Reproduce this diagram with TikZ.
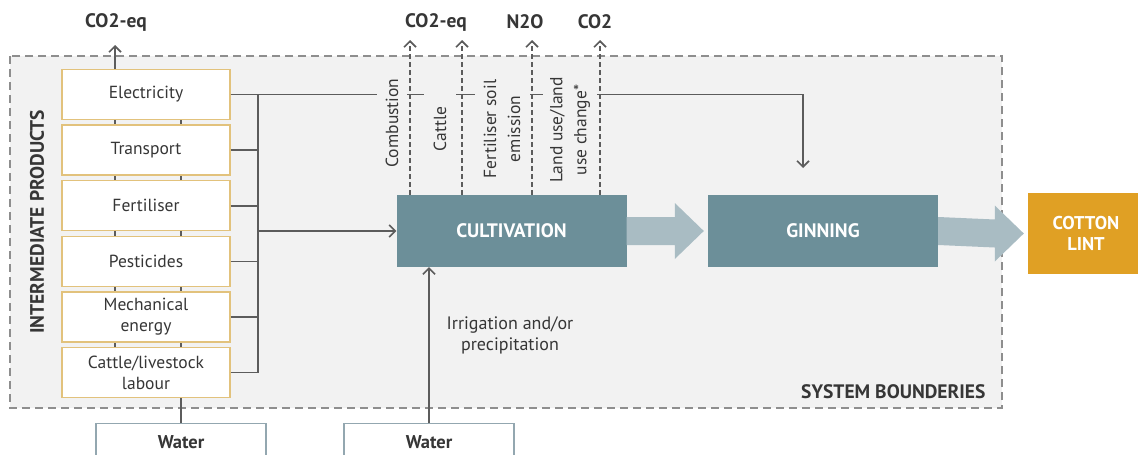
\documentclass[tikz,border=0pt]{standalone}
\usepackage{fontspec}
\setmainfont{PT Sans}
\usetikzlibrary{arrows.meta,calc}

\definecolor{bgcol}{HTML}{F2F2F2}
\definecolor{bordcol}{HTML}{8E8E8E}
\definecolor{boxline}{HTML}{E2C27C}
\definecolor{linecol}{HTML}{5C5C5C}
\definecolor{textcol}{HTML}{363636}
\definecolor{tealcol}{HTML}{6C8F99}
\definecolor{flowcol}{HTML}{A9BCC3}
\definecolor{lintcol}{HTML}{E0A024}
\definecolor{watercol}{HTML}{93A7B0}

\tikzset{
  boundary/.style={fill=bgcol, draw=bordcol, dash pattern=on 8pt off 5pt, line width=1.3pt},
  inbox/.style={draw=boxline, fill=white, line width=1.3pt, minimum width=168pt, minimum height=50pt,
    align=center, inner sep=1pt, text=textcol, font=\fontsize{17.5}{21}\selectfont},
  waterbox/.style={draw=watercol, fill=white, line width=1.2pt, minimum width=170pt, minimum height=37pt,
    anchor=north, inner sep=1pt, text=textcol, font=\fontsize{18.5}{21}\selectfont\bfseries},
  procbox/.style={fill=tealcol, text=white, minimum width=230pt, minimum height=72pt,
    font=\fontsize{19.5}{22}\selectfont\bfseries},
  lintbox/.style={fill=lintcol, text=white, minimum width=116pt, minimum height=81pt, align=center,
    font=\fontsize{18.5}{21}\selectfont\bfseries},
  boldlab/.style={text=textcol, font=\fontsize{19.5}{22}\selectfont\bfseries},
  sourcelab/.style={rotate=90, fill=bgcol, minimum width=104pt, align=center, inner sep=1pt,
    text=textcol, font=\fontsize{17.5}{24}\selectfont},
  wline/.style={draw=linecol, line width=1.6pt},
  tip/.style={-{Straight Barb[length=6pt,width=12pt,line width=1.6pt]}},
  emit/.style={wline, dash pattern=on 5pt off 3pt, tip},
}

\begin{document}
\begin{tikzpicture}[x=1pt,y=-1pt]
\path[use as bounding box] (0,0) rectangle (1138,455);
\clip (0,0) rectangle (1138,455);

% system boundary
\draw[boundary] (10,56) rectangle (1002,408);
\node[boldlab, anchor=south east] (sysb) at (989,402) {SYSTEM BOUNDERIES};
\node[boldlab, rotate=90] (inter) at (37,222) {INTERMEDIATE PRODUCTS};

% water
\node[waterbox] (water1) at (181,423) {Water};
\node[waterbox] (water2) at (429,423) {Water};

% lines running behind the input boxes
\coordinate (up1) at (115,45);
\draw[wline] (water1.north) -- (water1.north |- 0,94);
\draw[wline, tip] (115,372) -- (up1);

% intermediate products
\foreach \n/\t [count=\i from 0] in {elec/Electricity, trans/Transport, fert/Fertiliser, pest/Pesticides,
  mech/{Mechanical\\energy}, cattle/{Cattle/livestock\\labour}}
  \node[inbox] (\n) at (146,94.5+55.6*\i) {\t};

% collecting bus
\coordinate (bus) at (258,0);
\foreach \n in {elec,trans,fert,pest,mech,cattle}
  \draw[wline] (\n.east) -- (\n.east -| bus);
\draw[wline] (bus |- elec.east) -- (bus |- cattle.east);

% processes
\node[procbox] (cult) at (511.5,231) {CULTIVATION};
\node[procbox] (gin) at (823,231) {GINNING};
\node[lintbox] (lint) at (1086,233.5) {COTTON\\LINT};

\foreach \a/\b in {cult/gin,gin/lint}
  \fill[flowcol] ($(\a.east)+(0,-14)$) -- ($(\b.west)+(-33,-14)$) -- ($(\b.west)+(-33,-28)$)
    -- ($(\b.west)+(-4,0)$) -- ($(\b.west)+(-33,28)$) -- ($(\b.west)+(-33,14)$)
    -- ($(\a.east)+(0,14)$) -- cycle;

\draw[wline, tip] (bus |- cult.west) -- (cult.west);
\draw[wline, tip] (water2.north) -- (water2.north |- cult.south);
\node[text=textcol, align=center, font=\fontsize{18}{21}\selectfont] (irr) at (510,335)
  {Irrigation and/or\\precipitation};

% electricity to ginning
\coordinate (gtop) at (803,168);
\draw[wline, tip] (elec.east) -| (gtop);

% emission sources
\node[sourcelab, minimum height=30pt] (comb) at (392,123) {Combustion};
\node[sourcelab, minimum height=32pt] (catl) at (440,129) {Cattle};
\node[sourcelab, minimum height=55pt] (fsoil) at (502,129) {Fertiliser soil\\emission};
\node[sourcelab, minimum height=54pt] (luc) at (570,130) {Land use/land\\use change*};

% emissions
\node[boldlab] (co2a) at (116,22) {CO2-eq};
\node[boldlab] (co2b) at (436,22) {CO2-eq};
\node[boldlab] (n2o) at (525,22) {N2O};
\node[boldlab] (co2c) at (595,22) {CO2};
\foreach \x in {410,462,532,600} {
  \coordinate (e\x) at (\x,40);
  \draw[emit] (e\x |- cult.north) -- (e\x);
}

\end{tikzpicture}
\end{document}
